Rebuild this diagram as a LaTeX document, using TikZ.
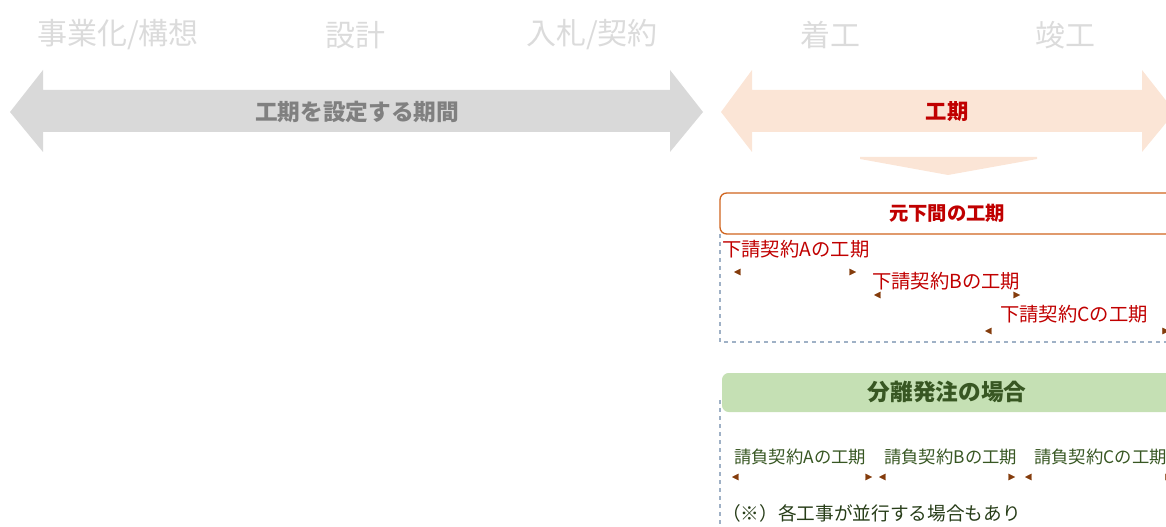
\documentclass[tikz,border=0pt]{standalone}
\usepackage{fontspec}
\newfontfamily\cjk{Noto Sans CJK JP}
\usetikzlibrary{arrows.meta}
\definecolor{grayband}{HTML}{D9D9D9}
\definecolor{graytext}{HTML}{808080}
\definecolor{peach}{HTML}{FBE5D6}
\definecolor{darkred}{HTML}{C00000}
\definecolor{rimorange}{HTML}{D0641E}
\definecolor{leafgreen}{HTML}{C5E0B4}
\definecolor{deepgreen}{HTML}{385723}
\definecolor{tipbrown}{HTML}{843C0C}
\definecolor{dashblue}{HTML}{9FB1C6}
\begin{document}
\begin{tikzpicture}[x=0.75pt, y=-0.75pt, every node/.style={font=\cjk, inner sep=0pt},
  tipped/.style={draw=white, line width=0.3pt, {Triangle[length=5pt,width=5pt,color=tipbrown]}-{Triangle[length=5pt,width=5pt,color=tipbrown]}}]
  \useasboundingbox (0,0) rectangle (1166,527);
  \clip (0,0) rectangle (1166,527);

  % 1. 工程名 (上段)
  \node[text=gray!28, font=\cjk\fontsize{22.5}{24}\selectfont] (plan)  at (118,35) {事業化/構想};
  \node[text=gray!28, font=\cjk\fontsize{22.5}{24}\selectfont] (design) at (355,35) {設計};
  \node[text=gray!28, font=\cjk\fontsize{22.5}{24}\selectfont] (bid)   at (592,35) {入札/契約};
  \node[text=gray!28, font=\cjk\fontsize{22.5}{24}\selectfont] (start) at (830,35) {着工};
  \node[text=gray!28, font=\cjk\fontsize{22.5}{24}\selectfont] (finish) at (1065,35) {竣工};

  % 2. 太い両矢印
  \fill[grayband] (10,112) -- (43,70) -- (43,90) -- (670,90) -- (670,70) -- (703,112)
    -- (670,152) -- (670,132) -- (43,132) -- (43,152) -- cycle;
  \node[text=graytext, font=\cjk\bfseries\fontsize{17}{20}\selectfont] (setting) at (357,112) {工期を設定する期間};
  \fill[peach] (721,112) -- (752,70) -- (752,90) -- (1142,90) -- (1142,70) -- (1175,112)
    -- (1142,152) -- (1142,132) -- (752,132) -- (752,152) -- cycle;
  \node[text=darkred, font=\cjk\bfseries\fontsize{16}{20}\selectfont] (term) at (947,112) {工期};
  \fill[peach] (860,157) -- (1037,157) -- (1037,159) -- (948,175) -- (860,159) -- cycle;

  % 3. 元下間の工期
  \draw[dashblue, dashed, line width=0.8pt] (720,234) -- (720,342) -- (1180,342);
  \draw[rimorange, fill=white, line width=1pt, rounded corners=5pt] (720,193) rectangle (1190,234);
  \node[text=darkred, font=\cjk\bfseries\fontsize{14.5}{18}\selectfont] (subhead) at (947,213) {元下間の工期};
  \node[text=darkred, font=\cjk\fontsize{14.5}{16}\selectfont, anchor=west] (subA) at (722,249) {下請契約Aの工期};
  \node[text=darkred, font=\cjk\fontsize{14.5}{16}\selectfont, anchor=west] (subB) at (872,281) {下請契約Bの工期};
  \node[text=darkred, font=\cjk\fontsize{14.5}{16}\selectfont, anchor=west] (subC) at (1000,314) {下請契約Cの工期};
  \coordinate (a1) at (734,272); \coordinate (a2) at (856,272);
  \coordinate (b1) at (874,295); \coordinate (b2) at (1020,295);
  \coordinate (c1) at (985,331); \coordinate (c2) at (1169,331);
  \draw[tipped] (a1) -- (a2);
  \draw[tipped] (b1) -- (b2);
  \draw[tipped] (c1) -- (c2);

  % 4. 分離発注の場合
  \draw[dashblue, dashed, line width=0.8pt] (720,400) -- (720,527);
  \fill[leafgreen, rounded corners=5pt] (722,373) rectangle (1190,412);
  \node[text=deepgreen, font=\cjk\bfseries\fontsize{17}{20}\selectfont] (split) at (947,392) {分離発注の場合};
  \node[text=deepgreen, font=\cjk\fontsize{13}{15}\selectfont, anchor=west] (ordA) at (734,457) {請負契約Aの工期};
  \node[text=deepgreen, font=\cjk\fontsize{13}{15}\selectfont, anchor=west] (ordB) at (884,457) {請負契約Bの工期};
  \node[text=deepgreen, font=\cjk\fontsize{13}{15}\selectfont, anchor=west] (ordC) at (1034,457) {請負契約Cの工期};
  \coordinate (p1) at (732,477); \coordinate (p2) at (872,477);
  \coordinate (q1) at (879,477); \coordinate (q2) at (1015,477);
  \coordinate (r1) at (1025,477); \coordinate (r2) at (1172,477);
  \draw[tipped] (p1) -- (p2);
  \draw[tipped] (q1) -- (q2);
  \draw[tipped] (r1) -- (r2);
  \node[text=deepgreen!70!black, font=\cjk\fontsize{14}{16}\selectfont, anchor=west] (note) at (722,513) {（※）各工事が並行する場合もあり};
\end{tikzpicture}
\end{document}
